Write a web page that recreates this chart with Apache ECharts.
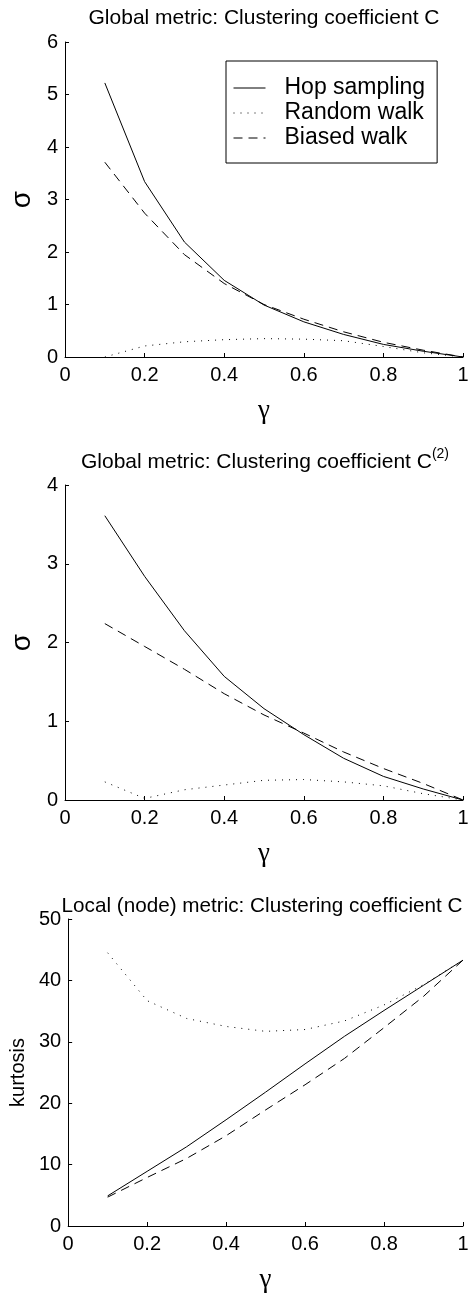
<!DOCTYPE html>
<html>
<head>
<meta charset="utf-8">
<script src="https://cdn.jsdelivr.net/npm/echarts@6/dist/echarts.min.js"></script>
<style>
  html, body { margin: 0; padding: 0; background: #fff; }
  #chart { width: 474px; height: 1294px; }
</style>
</head>
<body>
<div id="chart"></div>
<script>
// gamma values (x axis)
const gamma = [0.1, 0.2, 0.3, 0.4, 0.5, 0.6, 0.7, 0.8, 0.9, 1.0]
const seriesNames = ['Hop sampling', 'Random walk', 'Biased walk']

// panel 1: sigma, global clustering coefficient C
const hop1 = [5.22, 3.34, 2.19, 1.46, 0.99, 0.67, 0.43, 0.24, 0.11, 0]
const rnd1 = [0.0, 0.21, 0.29, 0.33, 0.35, 0.34, 0.31, 0.2, 0.08, 0]
const bia1 = [3.71, 2.74, 1.95, 1.4, 1.0, 0.72, 0.48, 0.28, 0.13, 0]

// panel 2: sigma, global clustering coefficient C(2)
const hop2 = [3.61, 2.84, 2.15, 1.57, 1.16, 0.83, 0.53, 0.3, 0.14, 0]
const rnd2 = [0.23, 0.02, 0.13, 0.19, 0.25, 0.26, 0.23, 0.18, 0.08, 0]
const bia2 = [2.24, 1.95, 1.66, 1.35, 1.08, 0.85, 0.61, 0.4, 0.21, 0]

// panel 3: kurtosis, local clustering coefficient C
const hop3 = [4.9, 8.9, 12.9, 17.3, 21.8, 26.4, 30.9, 35.1, 39.2, 43.3]
const rnd3 = [44.5, 36.7, 33.8, 32.5, 31.7, 32.0, 33.4, 36.0, 39.3, 43.3]
const bia3 = [4.7, 7.9, 11.0, 14.7, 18.9, 23.0, 27.3, 32.3, 37.4, 43.3]

const yMax = [6, 4, 50]
const yStep = [1, 1, 10]

const chart = echarts.init(document.getElementById('chart'))

const font = 'Liberation Sans, Arial, sans-serif'
const lineTypes = ['solid', [1, 6], [9, 6]]
const panels = [[hop1, rnd1, bia1], [hop2, rnd2, bia2], [hop3, rnd3, bia3]]

function pairs(ys) {
  return gamma.map((g, i) => [g, ys[i]])
}

const series = []
panels.forEach((p, k) => {
  p.forEach((ys, j) => {
    series.push({
      name: seriesNames[j],
      type: 'line',
      xAxisIndex: k,
      yAxisIndex: k,
      symbol: 'none',
      lineStyle: { color: '#000', width: 1, type: lineTypes[j] },
      itemStyle: { color: '#000' },
      data: pairs(ys)
    })
  })
})

const axisCommon = {
  axisLine: { show: true, lineStyle: { color: '#000', width: 1 } },
  axisTick: { show: true, inside: true, length: 4, lineStyle: { color: '#000' } },
  splitLine: { show: false },
  axisLabel: { color: '#000', fontSize: 20, fontFamily: font }
}

const titleStyle = { fontSize: 21, fontWeight: 'normal', color: '#000', fontFamily: font }

chart.setOption({
  animation: false,
  title: [
    {
      text: 'Global metric: Clustering coefficient C',
      left: 264, top: 8, padding: 0, textAlign: 'center',
      textStyle: titleStyle
    },
    {
      text: '{a|Global metric: Clustering coefficient C}{s|(2)}',
      left: 265, top: 447, padding: 0, textAlign: 'center',
      textStyle: {
        fontWeight: 'normal',
        rich: {
          a: { fontSize: 21, fontWeight: 'normal', color: '#000', fontFamily: font, lineHeight: 26, verticalAlign: 'bottom' },
          s: { fontSize: 14, fontWeight: 'normal', color: '#000', fontFamily: font, verticalAlign: 'top' }
        }
      }
    },
    {
      text: 'Local (node) metric: Clustering coefficient C',
      left: 262, top: 896, padding: 0, textAlign: 'center',
      textStyle: { fontSize: 20.7, fontWeight: 'normal', color: '#000', fontFamily: font }
    }
  ],
  legend: {
    orient: 'vertical',
    left: 226,
    top: 61,
    data: seriesNames,
    itemWidth: 32,
    itemHeight: 14,
    itemGap: 1,
    padding: [15, 12, 13, 7],
    borderColor: '#000',
    borderWidth: 1,
    backgroundColor: '#fff',
    // only the line sample, no symbol in the middle
    itemStyle: { opacity: 0 },
    lineStyle: { color: '#000', width: 1 },
    textStyle: { color: '#000', fontSize: 23, fontFamily: font, padding: [0, 0, 0, 14], lineHeight: 24 }
  },
  grid: [
    { left: 64, top: 42, width: 399, height: 315 },
    { left: 65, top: 485, width: 398, height: 315 },
    { left: 66, top: 919, width: 397, height: 314 }
  ],
  xAxis: [0, 1, 2].map((k) => Object.assign({}, axisCommon, {
    type: 'value',
    gridIndex: k,
    min: 0,
    max: 1,
    interval: 0.2,
    name: 'γ',
    nameLocation: 'middle',
    nameGap: 40,
    nameTextStyle: { color: '#000', fontSize: 27, fontFamily: 'Liberation Serif, serif' },
    axisLabel: Object.assign({}, axisCommon.axisLabel, { margin: 8 })
  })),
  yAxis: [0, 1, 2].map((k) => Object.assign({}, axisCommon, {
    type: 'value',
    gridIndex: k,
    min: 0,
    max: yMax[k],
    interval: yStep[k],
    name: k < 2 ? 'σ' : 'kurtosis',
    nameLocation: 'middle',
    nameGap: k < 2 ? 26 : 35,
    nameTextStyle: k < 2
      ? { color: '#000', fontSize: 28, fontFamily: font }
      : { color: '#000', fontSize: 20, fontFamily: font },
    axisLabel: Object.assign({}, axisCommon.axisLabel, { margin: 7 })
  })),
  series: series
})
</script>
</body>
</html>
